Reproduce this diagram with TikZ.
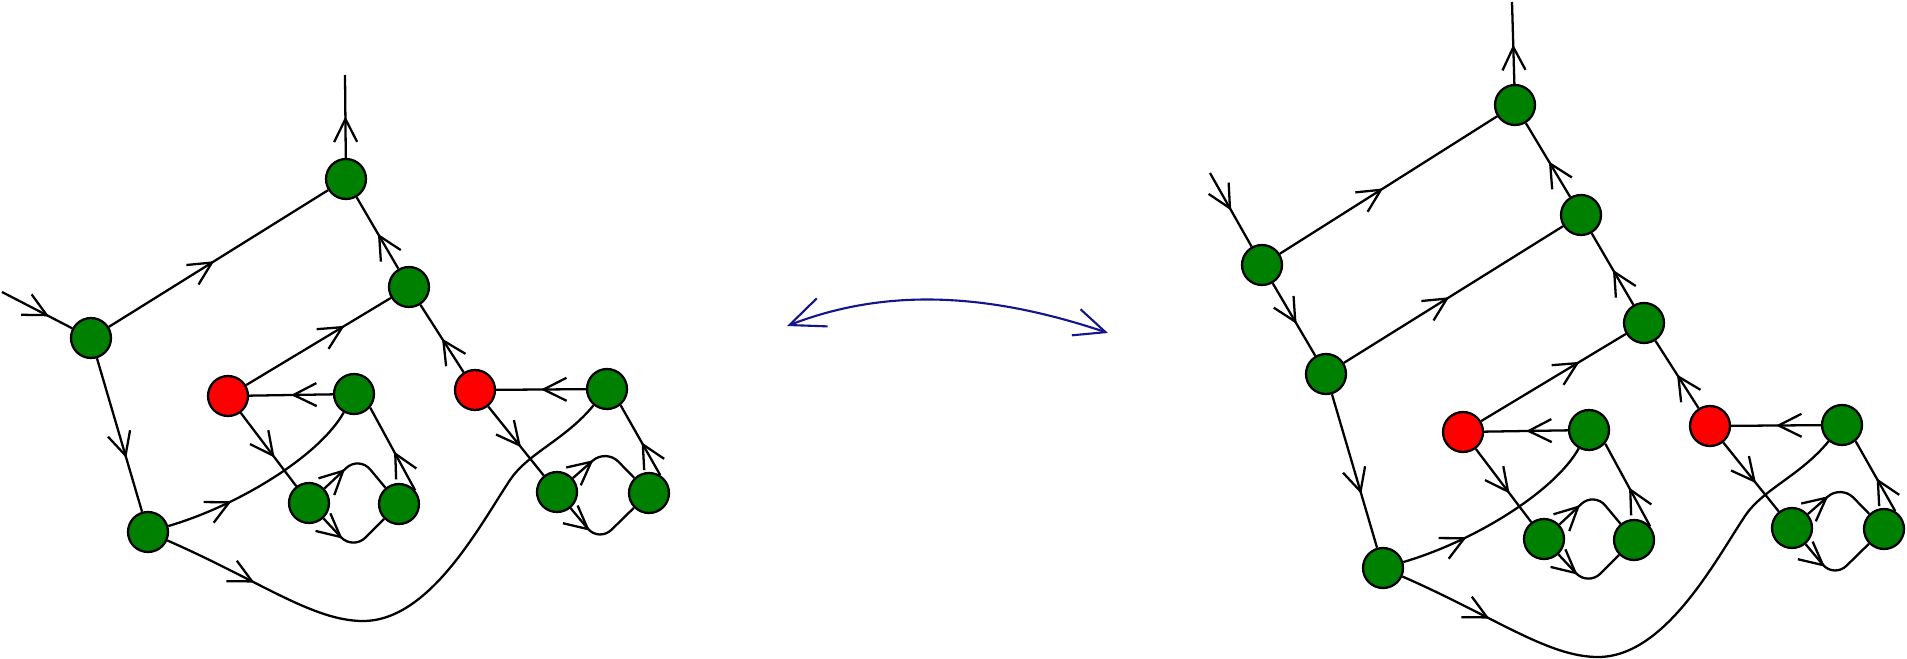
\documentclass[tikz,border=0pt]{standalone}
\usetikzlibrary{arrows.meta,decorations.markings}
\definecolor{nodegreen}{RGB}{0,128,0}
\definecolor{nodered}{RGB}{255,0,0}
\definecolor{swapblue}{RGB}{20,20,140}

\begin{document}
\begin{tikzpicture}[x=0.02cm,y=-0.02cm,line width=1.3pt,
		main node/.style={circle,draw,fill=nodegreen,minimum size=0.8cm,inner sep=0pt},
		cut node/.style={main node,fill=nodered},
		mid arrow/.style={postaction={decorate},decoration={markings,
			mark=at position #1 with {\arrow{Straight Barb[length=0.46cm,width=0.46cm]}}}},
		mid arrow/.default=0.5,
		loop arc/.style={rounded corners=10pt,mid arrow=0.35},
		swap arrow/.style={draw=swapblue,line width=1.2pt,
			arrows={Straight Barb[length=0.7cm,width=0.6cm]-Straight Barb[length=0.62cm,width=0.55cm]}}]
		
		\useasboundingbox (0,0) rectangle (1907,659);
		
		% left graph
		\node[main node] (1) at (346,179) {};
		\node[main node] (2) at (409,287) {};
		\node[main node] (3) at (91,338) {};
		\node[cut node] (4) at (228,396) {};
		\node[main node] (5) at (354,394) {};
		\node[cut node] (6) at (475,390) {};
		\node[main node] (7) at (607,389) {};
		\node[main node] (8) at (148,532) {};
		\node[main node] (9) at (309,503) {};
		\node[main node] (10) at (399,504) {};
		\node[main node] (11) at (557,492) {};
		\node[main node] (12) at (649,493) {};
		\coordinate (in1) at (2,292);
		\coordinate (out1) at (345,75);
		
		\path
		(in1) edge[mid arrow=0.67] (3)
		(3) edge[mid arrow=0.48] (1)
		(2) edge[mid arrow=0.49] (1)
		(1) edge[mid arrow] (out1)
		(4) edge[mid arrow=0.68] (2)
		(6) edge[mid arrow] (2)
		(5) edge[mid arrow] (4)
		(7) edge[mid arrow] (6)
		(3) edge[mid arrow=0.65] (8)
		(4) edge[mid arrow=0.61] (9)
		(10.40) edge[mid arrow=0.47] (5.-40)
		(6) edge[mid arrow=0.59] (11)
		(12.58) edge[mid arrow=0.47] (7.-50);
		
		\draw[mid arrow=0.32] (8) .. controls (240,505) and (320,455) .. (5);
		\draw[mid arrow=0.18] (8) .. controls (260,581) and (313,621) .. (363,621)
		.. controls (430,621) and (480,525) .. (510,480)
		.. controls (528,453) and (565,440) .. (7);
		\draw[loop arc] (9) -- (359,456) -- (10);
		\draw[loop arc] (9) -- (353,550) -- (10);
		\draw[loop arc] (11) -- (606,449) -- (12);
		\draw[loop arc] (11) -- (599,542) -- (12);
		
		% swap
		\coordinate (bl) at (787,326);
		\coordinate (br) at (1108,333);
		\draw[swap arrow] (bl) .. controls (880,290) and (980,290) .. (br);
		
		% right graph
		\node[main node] (13) at (1515,105) {};
		\node[main node] (14) at (1262,265) {};
		\node[main node] (15) at (1581,215) {};
		\node[main node] (16) at (1644,323) {};
		\node[main node] (17) at (1326,374) {};
		\node[cut node] (18) at (1463,432) {};
		\node[main node] (19) at (1589,430) {};
		\node[cut node] (20) at (1710,426) {};
		\node[main node] (21) at (1842,425) {};
		\node[main node] (22) at (1383,568) {};
		\node[main node] (23) at (1544,539) {};
		\node[main node] (24) at (1634,540) {};
		\node[main node] (25) at (1792,528) {};
		\node[main node] (26) at (1884,529) {};
		\coordinate (in2) at (1210,173);
		\coordinate (out2) at (1512,2);
		
		\path
		(in2) edge[mid arrow=0.51] (14)
		(14) edge[mid arrow=0.475] (13)
		(14) edge[mid arrow=0.56] (17)
		(15) edge[mid arrow=0.48] (13)
		(13) edge[mid arrow=0.48] (out2)
		(17) edge[mid arrow=0.48] (15)
		(16) edge[mid arrow=0.49] (15)
		(18) edge[mid arrow=0.68] (16)
		(20) edge[mid arrow] (16)
		(19) edge[mid arrow] (18)
		(21) edge[mid arrow] (20)
		(17) edge[mid arrow=0.65] (22)
		(18) edge[mid arrow=0.61] (23)
		(24.40) edge[mid arrow=0.47] (19.-40)
		(20) edge[mid arrow=0.59] (25)
		(26.58) edge[mid arrow=0.47] (21.-50);
		
		\draw[mid arrow=0.32] (22) .. controls (1475,541) and (1555,491) .. (19);
		\draw[mid arrow=0.18] (22) .. controls (1495,617) and (1548,657) .. (1598,657)
		.. controls (1665,657) and (1715,561) .. (1745,516)
		.. controls (1763,489) and (1800,476) .. (21);
		\draw[loop arc] (23) -- (1594,492) -- (24);
		\draw[loop arc] (23) -- (1588,586) -- (24);
		\draw[loop arc] (25) -- (1841,485) -- (26);
		\draw[loop arc] (25) -- (1834,578) -- (26);
\end{tikzpicture}
\end{document}
